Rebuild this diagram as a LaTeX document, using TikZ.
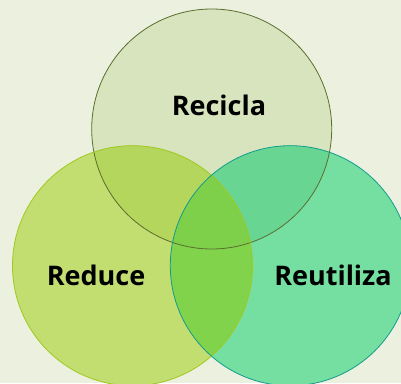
\documentclass[tikz,border=0pt]{standalone}
\usepackage{fontspec}
\setmainfont{Open Sans}
\definecolor{bg}{HTML}{EBF1DE}
\definecolor{cT}{HTML}{D7E4BD}
\definecolor{cL}{HTML}{C3DE70}
\definecolor{cR}{HTML}{74DFA1}
\definecolor{cTL}{HTML}{B4D65C}
\definecolor{cTR}{HTML}{69D592}
\definecolor{cLR}{HTML}{82D34C}
\definecolor{cTLR}{HTML}{7ECF4A}
\definecolor{sT}{HTML}{5A6E2E}
\definecolor{sL}{HTML}{A0C81E}
\definecolor{sR}{HTML}{139C8E}
\begin{document}
\begin{tikzpicture}[x=1pt,y=-1pt,
  lbl/.style={font=\fontsize{27}{30}\selectfont\bfseries, text=black, inner sep=0pt}]
\useasboundingbox (0,0) rectangle (401,383);
\clip (0,0) rectangle (401,383);
\fill[bg] (0,0) rectangle (401,383);
\def\rr{120}
\coordinate (T) at (211.7,129);
\coordinate (L) at (132.5,265.7);
\coordinate (R) at (290.3,265.7);
\fill[cT] (T) circle (\rr);
\fill[cL] (L) circle (\rr);
\fill[cR] (R) circle (\rr);
\begin{scope}
  \clip (T) circle (\rr);
  \fill[cTL] (L) circle (\rr);
  \fill[cTR] (R) circle (\rr);
\end{scope}
\begin{scope}
  \clip (L) circle (\rr);
  \fill[cLR] (R) circle (\rr);
  \clip (R) circle (\rr);
  \fill[cTLR] (T) circle (\rr);
\end{scope}
\draw[sT, line width=0.8pt] (T) circle (\rr);
\draw[sL, line width=0.8pt] (L) circle (\rr);
\draw[sR, line width=0.8pt] (R) circle (\rr);
\node[lbl] (recicla) at (219,105) {Recicla};
\node[lbl] (reduce) at (96,275) {Reduce};
\node[lbl] (reutiliza) at (333,275) {Reutiliza};
\end{tikzpicture}
\end{document}
